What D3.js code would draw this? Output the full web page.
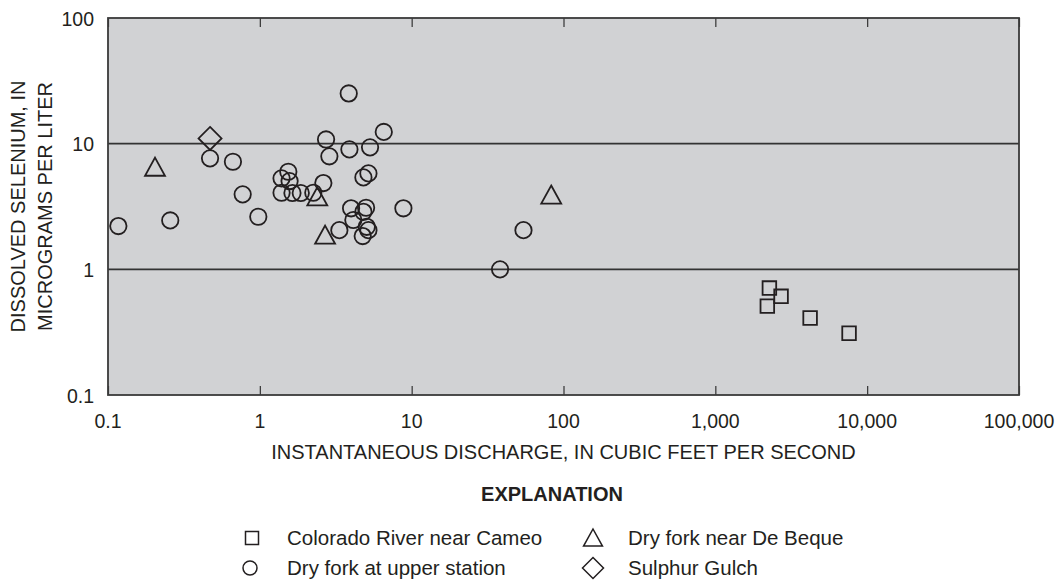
<!DOCTYPE html>
<html><head><meta charset="utf-8">
<script src="https://cdn.jsdelivr.net/npm/d3@7"></script>
<style>body{margin:0;background:#fff}svg{display:block}</style>
</head><body>
<svg id="c" width="1056" height="588"></svg>
<script>
// ---- data ----
const xTicks = [0.1, 1, 10, 100, 1000, 10000, 100000];
const xTickLabels = ["0.1", "1", "10", "100", "1,000", "10,000", "100,000"];
const yTicks = [0.1, 1, 10, 100];
const yTickLabels = ["0.1", "1", "10", "100"];
const gridValues = [1, 10];

const seriesNames = ["Colorado River near Cameo", "Dry fork near De Beque", "Dry fork at upper station", "Sulphur Gulch"];

// Colorado River near Cameo (squares): [discharge, selenium]
const cameo = [[2270, 0.71], [2710, 0.61], [2200, 0.51], [4210, 0.41], [7600, 0.31]];
// Dry fork near De Beque (triangles)
const deBeque = [[0.204, 6.5], [2.39, 3.78], [2.69, 1.87], [83, 3.9]];
// Dry fork at upper station (circles)
const upper = [
  [0.117, 2.21], [0.257, 2.45], [0.47, 7.64], [0.665, 7.18], [0.771, 3.95], [0.977, 2.62],
  [1.39, 5.3], [1.54, 5.98], [1.57, 5.04], [1.39, 4.07], [1.64, 4.05], [1.86, 4.05],
  [2.25, 4.07], [2.62, 4.86], [2.87, 7.93], [2.73, 10.8], [3.85, 25.1], [3.89, 9.0],
  [5.32, 9.35], [6.55, 12.4], [4.81, 5.39], [5.19, 5.8], [3.99, 3.06], [5.01, 3.09],
  [4.81, 2.87], [4.13, 2.47], [3.34, 2.05], [5.06, 2.18], [5.19, 2.05], [4.76, 1.84],
  [8.82, 3.06], [38.2, 1.0], [54.5, 2.05]
];
// Sulphur Gulch (diamonds)
const sulphur = [[0.47, 11.0]];

// ---- layout ----
const svg = d3.select("#c");
const L = 108, R = 1019, T = 18, B = 395;
const x = d3.scaleLog().domain([0.1, 100000]).range([L, R]);
const y = d3.scaleLog().domain([0.1, 100]).range([B, T]);
const ink = "#231f20";
const font = "'Liberation Sans', Arial, sans-serif";

svg.append("rect").attr("x", L).attr("y", T).attr("width", R - L).attr("height", B - T)
  .attr("fill", "#d1d2d4");

// grid lines
svg.append("g").selectAll("line").data(gridValues).join("line")
  .attr("x1", L).attr("x2", R).attr("y1", d => y(d)).attr("y2", d => y(d))
  .attr("stroke", "#333").attr("stroke-width", 1.6);

// bottom and top ticks via axes
const tickLen = 9;
const axB = d3.axisTop(x).tickValues(xTicks).tickSize(tickLen).tickFormat("");
const axT = d3.axisBottom(x).tickValues(xTicks).tickSize(tickLen).tickFormat("");
const gB = svg.append("g").attr("transform", `translate(0,${B})`).call(axB);
const gT = svg.append("g").attr("transform", `translate(0,${T})`).call(axT);
[gB, gT].forEach(g => {
  g.select(".domain").remove();
  g.selectAll("line").attr("stroke", "#333").attr("stroke-width", 1.2);
});

// frame
svg.append("rect").attr("x", L).attr("y", T).attr("width", R - L).attr("height", B - T)
  .attr("fill", "none").attr("stroke", "#3a3a3a").attr("stroke-width", 1.8);

// x tick labels
svg.append("g").selectAll("text").data(xTicks).join("text")
  .attr("x", d => x(d)).attr("y", 428).attr("text-anchor", "middle")
  .attr("font-family", font).attr("font-size", 19.5).attr("fill", ink)
  .text((d, i) => xTickLabels[i]);

// y tick labels
svg.append("g").selectAll("text").data(yTicks).join("text")
  .attr("x", 94).attr("y", d => y(d) + 7.5).attr("text-anchor", "end")
  .attr("font-family", font).attr("font-size", 19.5).attr("fill", ink)
  .text((d, i) => yTickLabels[i]);

// axis titles
svg.append("text").attr("x", (L + R) / 2).attr("y", 459).attr("text-anchor", "middle")
  .attr("font-family", font).attr("font-size", 20).attr("fill", ink)
  .text("INSTANTANEOUS DISCHARGE, IN CUBIC FEET PER SECOND");
const yt = svg.append("text").attr("transform", `translate(0,${(T + B) / 2}) rotate(-90)`)
  .attr("text-anchor", "middle").attr("font-family", font).attr("font-size", 20).attr("fill", ink);
yt.append("tspan").attr("x", 0).attr("y", 25).text("DISSOLVED SELENIUM, IN");
yt.append("tspan").attr("x", 0).attr("y", 52).text("MICROGRAMS PER LITER");

// symbol path generators (s = half-size)
const shapes = {
  square: s => `M${-s},${-s}H${s}V${s}H${-s}Z`,
  triangle: s => `M0,${-s * 1.0}L${s * 1.05},${s * 0.9}H${-s * 1.05}Z`,
  circle: s => `M${s},0A${s},${s} 0 1,1 ${-s},0A${s},${s} 0 1,1 ${s},0Z`,
  diamond: s => `M0,${-s}L${s},0L0,${s}L${-s},0Z`
};

function plotSeries(data, shape, s) {
  svg.append("g").selectAll("path").data(data).join("path")
    .attr("transform", d => `translate(${x(d[0])},${y(d[1])})`)
    .attr("d", shapes[shape](s))
    .attr("fill", "none").attr("stroke", ink).attr("stroke-width", 1.8);
}
plotSeries(upper, "circle", 8.2);
plotSeries(cameo, "square", 6.8);
plotSeries(deBeque, "triangle", 9.5);
plotSeries(sulphur, "diamond", 11.5);

// legend
svg.append("text").attr("x", 552).attr("y", 501).attr("text-anchor", "middle")
  .attr("font-family", font).attr("font-size", 20).attr("font-weight", "bold").attr("fill", ink)
  .text("EXPLANATION");
const legendItems = [
  { name: seriesNames[0], shape: "square", s: 6.5, sx: 252, tx: 287, y: 538 },
  { name: seriesNames[1], shape: "triangle", s: 9, sx: 593, tx: 628, y: 538 },
  { name: seriesNames[2], shape: "circle", s: 7, sx: 250, tx: 287, y: 568 },
  { name: seriesNames[3], shape: "diamond", s: 10.5, sx: 593, tx: 628, y: 568 }
];
const lg = svg.append("g").selectAll("g").data(legendItems).join("g");
lg.append("path").attr("transform", d => `translate(${d.sx},${d.y})`)
  .attr("d", d => shapes[d.shape](d.s))
  .attr("fill", "none").attr("stroke", ink).attr("stroke-width", 1.5);
lg.append("text").attr("x", d => d.tx).attr("y", d => d.y + 7)
  .attr("font-family", font).attr("font-size", 20.5).attr("fill", ink)
  .text(d => d.name);
</script>
</body></html>
